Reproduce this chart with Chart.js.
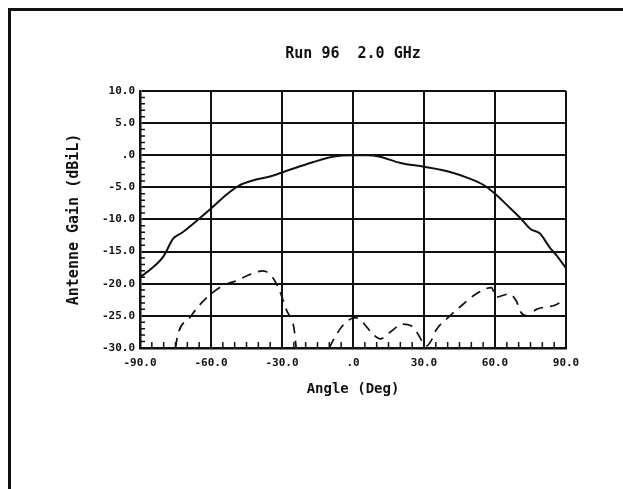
<!DOCTYPE html>
<html>
<head>
<meta charset="utf-8">
<script src="https://cdn.jsdelivr.net/npm/chart.js@4/dist/chart.umd.min.js"></script>
<style>
  html, body { margin: 0; padding: 0; background: #fff; }
  #wrap { position: relative; width: 623px; height: 489px; }
  #frame { position: absolute; left: 8px; top: 8px; right: 0; bottom: 0;
           border-top: 3px solid #111; border-left: 3px solid #111; }
  canvas { position: absolute; left: 0; top: 0; }
</style>
</head>
<body>
<div id="wrap">
  <div id="frame"></div>
  <canvas id="gainChart" width="623" height="489"></canvas>
</div>
<script>
// co-polar (solid) trace
const coAngle = [-90, -85, -80, -76, -72, -66, -60, -53, -48, -42, -35, -27, -17, -8, 0, 6, 11, 20, 30, 41, 49, 55, 60, 66, 71, 75, 79, 83, 86, 90];
const coGain  = [-19.0, -17.6, -15.7, -13.0, -12.0, -10.2, -8.3, -6.0, -4.7, -3.9, -3.3, -2.3, -1.1, -0.2, 0.0, 0.0, -0.2, -1.2, -1.8, -2.6, -3.6, -4.6, -6.0, -8.1, -9.9, -11.5, -12.2, -14.3, -15.6, -17.6];

// cross-polar (dashed) trace, null = below the plot floor
const xAngle = [-75, -74, -69, -65, -60, -55, -49, -43, -38, -34, -31, -28, -25, -24, -17, -10, -7, -3, 1, 4, 8.5, 11.5, 15.5, 21, 25.5, 30, 31, 33, 35, 41, 46.5, 52, 58.5, 60.5, 66, 69, 71, 73.5, 77.5, 82, 85, 90];
const xGain  = [-30, -27.9, -25.3, -23.4, -21.6, -20.3, -19.5, -18.5, -18.0, -19.0, -21.1, -24.2, -26.8, -30, null, -30, -27.9, -26.0, -25.3, -26.0, -27.9, -28.6, -27.6, -26.3, -26.8, -29.4, -29.7, -28.9, -27.3, -25.0, -23.2, -21.6, -20.6, -22.1, -21.6, -22.7, -24.5, -25.0, -24.0, -23.6, -23.4, -22.4];

const angleTicks = [-90, -60, -30, 0, 30, 60, 90];
const gainTicks = [-30, -25, -20, -15, -10, -5, 0, 5, 10];

const fmt = v => v === 0 ? '.0' : v.toFixed(1);
const pts = (xs, ys) => xs.map((x, i) => ({ x: x, y: ys[i] }));

// small inside ticks: 1 dB on the left edge, 5 deg on the bottom edge
const minorTicks = {
    id: 'minorTicks',
    afterDatasetsDraw(chart) {
        const { ctx, chartArea: a, scales: { x, y } } = chart;
        ctx.save();
        ctx.strokeStyle = '#111';
        ctx.lineWidth = 1.5;
        ctx.beginPath();
        for (let v = -30; v <= 10; v++) {
            if (v % 5 === 0) continue;
            const py = y.getPixelForValue(v);
            ctx.moveTo(a.left, py);
            ctx.lineTo(a.left + 5, py);
        }
        for (let v = -90; v <= 90; v += 5) {
            if (v % 30 === 0) continue;
            const px = x.getPixelForValue(v);
            ctx.moveTo(px, a.bottom);
            ctx.lineTo(px, a.bottom - 6);
        }
        ctx.stroke();
        ctx.restore();
    }
};

const mono = 'DejaVu Sans Mono';

new Chart(document.getElementById('gainChart'), {
    type: 'line',
    data: {
        datasets: [{
            label: 'Co-pol',
            data: pts(coAngle, coGain),
            borderColor: '#111',
            borderWidth: 2,
            pointRadius: 0,
            cubicInterpolationMode: 'monotone'
        }, {
            label: 'Cross-pol',
            data: pts(xAngle, xGain),
            borderColor: '#111',
            borderWidth: 1.7,
            borderDash: [10, 7],
            pointRadius: 0,
            spanGaps: false,
            cubicInterpolationMode: 'monotone'
        }]
    },
    options: {
        responsive: false,
        animation: false,
        layout: { padding: { left: 0, right: 57, top: 0, bottom: 91.6 } },
        plugins: {
            legend: { display: false },
            tooltip: { enabled: false },
            title: {
                display: true,
                text: 'Run 96  2.0 GHz',
                fullSize: false,
                color: '#111',
                font: { family: mono, size: 15, weight: 'bold' },
                padding: { top: 45, bottom: 28 }
            }
        },
        scales: {
            x: {
                type: 'linear',
                min: -90, max: 90,
                afterBuildTicks: s => { s.ticks = angleTicks.map(v => ({ value: v })); },
                ticks: {
                    color: '#111',
                    padding: 9,
                    maxRotation: 0,
                    font: { family: mono, size: 11, weight: 'bold' },
                    callback: v => fmt(v)
                },
                grid: { color: '#111', lineWidth: 2, drawTicks: false },
                border: { color: '#111', width: 2.5 },
                title: {
                    display: true,
                    text: 'Angle (Deg)',
                    color: '#111',
                    font: { family: mono, size: 14, weight: 'bold' },
                    padding: { top: 1.5, bottom: 0 }
                }
            },
            y: {
                min: -30, max: 10,
                afterBuildTicks: s => { s.ticks = gainTicks.map(v => ({ value: v })); },
                afterFit: s => { s.width = 140; },
                ticks: {
                    color: '#111',
                    padding: 5,
                    font: { family: mono, size: 11, weight: 'bold' },
                    callback: v => fmt(v)
                },
                grid: { color: '#111', lineWidth: 2, drawTicks: false },
                border: { color: '#111', width: 2.5 },
                title: {
                    display: true,
                    text: 'Antenne Gain (dBiL)',
                    color: '#111',
                    font: { family: mono, size: 15, weight: 'bold' },
                    padding: { top: 65, bottom: 0 }
                }
            }
        }
    },
    plugins: [minorTicks]
});
</script>
</body>
</html>
